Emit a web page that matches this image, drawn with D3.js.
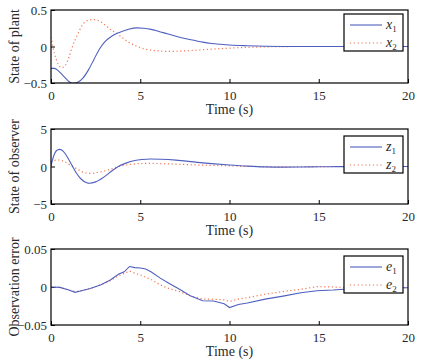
<!DOCTYPE html>
<html>
<head>
<meta charset="utf-8">
<script src="https://cdn.jsdelivr.net/npm/d3@7"></script>
<style>
  body { margin: 0; background: #fff; }
  svg { display: block; }
  text { font-family: "Liberation Serif", "Times New Roman", Times, serif; fill: #2a2a2a; }
</style>
</head>
<body>
<div id="chart"></div>
<script>
// state of plant
let tX = [0, 0.2, 0.4, 0.6, 0.8, 1.0, 1.2, 1.5, 1.8, 2.1, 2.4, 2.7, 3.0, 3.4, 3.7, 4.0, 4.4, 4.8, 5.2, 5.6, 6.0, 6.5, 7.0, 7.5, 8.0, 8.5, 9.0, 9.5, 10, 11, 12, 13, 14, 15, 16, 17, 18, 19, 20];
let x1 = [-0.30, -0.30, -0.33, -0.38, -0.43, -0.48, -0.505, -0.49, -0.43, -0.32, -0.18, -0.04, 0.06, 0.14, 0.18, 0.21, 0.24, 0.255, 0.25, 0.235, 0.21, 0.175, 0.14, 0.11, 0.085, 0.06, 0.042, 0.03, 0.02, 0.01, 0.004, 0.001, 0.0, 0.0, 0.0, 0.0, 0.0, 0.0, 0.0];
let x2 = [0.13, -0.10, -0.24, -0.29, -0.26, -0.15, 0.0, 0.17, 0.31, 0.36, 0.37, 0.35, 0.30, 0.22, 0.176, 0.12, 0.05, 0.005, -0.03, -0.05, -0.06, -0.068, -0.065, -0.06, -0.053, -0.045, -0.037, -0.029, -0.022, -0.012, -0.005, -0.001, 0.0, 0.0, 0.0, 0.0, 0.0, 0.0, 0.0];

// state of observer
let tZ = [0, 0.15, 0.3, 0.47, 0.6, 0.8, 1.0, 1.2, 1.4, 1.7, 2.0, 2.15, 2.5, 3.0, 3.4, 3.77, 4.2, 4.7, 5.1, 5.55, 6.2, 7.0, 8.2, 9.0, 10, 11, 12, 13, 14, 15, 16, 17, 18, 19, 20];
let z1 = [0.1, 1.4, 2.1, 2.29, 2.2, 1.7, 0.9, 0.05, -0.8, -1.7, -2.17, -2.24, -2.05, -1.35, -0.6, 0.0, 0.45, 0.8, 0.93, 1.0, 0.97, 0.85, 0.55, 0.38, 0.2, 0.05, -0.05, -0.08, -0.07, -0.04, -0.02, 0.0, 0.0, 0.0, 0.0];
let z2 = [0.6, 0.8, 0.86, 0.87, 0.8, 0.6, 0.3, 0.05, -0.25, -0.65, -0.87, -0.91, -0.85, -0.6, -0.3, 0.0, 0.2, 0.34, 0.4, 0.42, 0.38, 0.32, 0.2, 0.15, 0.09, 0.03, -0.02, -0.04, -0.03, -0.02, 0.0, 0.0, 0.0, 0.0, 0.0];

// observation error
let tE = [0, 0.5, 1.0, 1.35, 1.7, 2.2, 2.8, 3.3, 3.8, 4.1, 4.4, 4.7, 5.0, 5.3, 5.6, 6.1, 6.6, 7.2, 7.8, 8.5, 9.1, 9.7, 10.0, 10.5, 11, 12, 13, 14, 14.9, 15.8, 17, 18, 19, 20];
let e1 = [0.0, -0.0005, -0.004, -0.007, -0.005, -0.002, 0.003, 0.009, 0.017, 0.02, 0.027, 0.0255, 0.025, 0.0237, 0.02, 0.012, 0.005, -0.003, -0.0114, -0.018, -0.0185, -0.022, -0.027, -0.023, -0.021, -0.016, -0.012, -0.0075, -0.005, -0.004, -0.002, -0.001, -0.001, -0.001];
let e2 = [0.0, -0.0005, -0.004, -0.006, -0.005, -0.002, 0.003, 0.008, 0.015, 0.018, 0.021, 0.018, 0.016, 0.013, 0.01, 0.003, -0.002, -0.006, -0.0114, -0.016, -0.016, -0.017, -0.019, -0.016, -0.014, -0.0095, -0.006, -0.003, 0.0005, 0.0, -0.001, -0.001, -0.001, -0.001];

let xTicks = [0, 5, 10, 15, 20];

let panels = [
    {top: 10, bottom: 83, t: tX, a: x1, b: x2, dom: [-0.5, 0.5], ticks: [-0.5, 0, 0.5], ylab: "State of plant", sym: "x", curve: d3.curveMonotoneX, leg: 14},
    {top: 129, bottom: 204, t: tZ, a: z1, b: z2, dom: [-5, 5], ticks: [-5, 0, 5], ylab: "State of observer", sym: "z", curve: d3.curveMonotoneX, leg: 136},
    {top: 249, bottom: 325, t: tE, a: e1, b: e2, dom: [-0.05, 0.05], ticks: [-0.05, 0, 0.05], ylab: "Observation error", sym: "e", curve: d3.curveLinear, leg: 256}
];

let width = 421, height = 364;
let left = 51, right = 408;
let blue = "#4f5fc0", orange = "#f4764e";
let serif = "'Liberation Serif', 'Times New Roman', Times, serif";

let svg = d3.select("#chart").append("svg")
    .attr("width", width)
    .attr("height", height);

let x = d3.scaleLinear().domain([0, 20]).range([left, right]);

panels.forEach(function(p) {
    let y = d3.scaleLinear().domain(p.dom).range([p.bottom, p.top]);
    let g = svg.append("g");

    let clipId = "clip" + p.top;
    g.append("clipPath").attr("id", clipId)
        .append("rect")
        .attr("x", left).attr("y", p.top)
        .attr("width", right - left).attr("height", p.bottom - p.top);

    // axes with inward ticks
    let xAxis = g.append("g")
        .attr("transform", "translate(0," + p.bottom + ")")
        .call(d3.axisBottom(x).tickValues(xTicks).tickSizeInner(-4).tickSizeOuter(0).tickPadding(6));
    let yAxis = g.append("g")
        .attr("transform", "translate(" + left + ",0)")
        .call(d3.axisLeft(y).tickValues(p.ticks).tickSizeInner(-4).tickSizeOuter(0).tickPadding(6)
            .tickFormat(function(d) { return d === 0 ? "0" : String(d).replace("-", "\u2212"); }));
    [xAxis, yAxis].forEach(function(ax) {
        ax.attr("font-family", serif);
        ax.select(".domain").remove();
        ax.selectAll("line").attr("stroke", "#000");
        ax.selectAll("text").attr("font-size", 13).attr("fill", "#2a2a2a");
    });
    xAxis.selectAll("text").attr("dy", null).attr("y", 17);
    yAxis.selectAll("text").attr("x", -4).attr("dy", "0.35em");

    let line = function(vals) {
        return d3.line()
            .x(function(d, i) { return x(p.t[i]); })
            .y(function(d) { return y(d); })
            .curve(p.curve)(vals);
    };

    let plot = g.append("g").attr("clip-path", "url(#" + clipId + ")");
    plot.append("path").attr("d", line(p.b))
        .attr("fill", "none").attr("stroke", orange).attr("stroke-width", 1.2)
        .attr("stroke-dasharray", "1.2,2.6");
    plot.append("path").attr("d", line(p.a))
        .attr("fill", "none").attr("stroke", blue).attr("stroke-width", 1.1);

    // box
    g.append("rect")
        .attr("x", left).attr("y", p.top)
        .attr("width", right - left).attr("height", p.bottom - p.top)
        .attr("fill", "none").attr("stroke", "#000").attr("stroke-width", 1.2);

    // labels
    g.append("text")
        .attr("x", (left + right) / 2).attr("y", p.bottom + 31)
        .attr("text-anchor", "middle").attr("font-size", 14)
        .text("Time (s)");
    g.append("text")
        .attr("transform", "translate(19," + ((p.top + p.bottom) / 2) + ") rotate(-90)")
        .attr("text-anchor", "middle").attr("font-size", 14)
        .text(p.ylab);

    // legend
    let lg = g.append("g").attr("transform", "translate(344," + p.leg + ")");
    lg.append("rect").attr("width", 59).attr("height", 37)
        .attr("fill", "#fff").attr("stroke", "#000").attr("stroke-width", 1.2);
    [[blue, null, "1"], [orange, "1.2,2.6", "2"]].forEach(function(e, i) {
        let yy = 11 + i * 18;
        lg.append("line").attr("x1", 6).attr("x2", 38).attr("y1", yy).attr("y2", yy)
            .attr("stroke", e[0]).attr("stroke-width", 1.1)
            .attr("stroke-dasharray", e[1]);
        let t = lg.append("text").attr("x", 42).attr("y", yy + 4).attr("font-size", 14);
        t.append("tspan").attr("font-style", "italic").text(p.sym);
        t.append("tspan").attr("font-size", 9).attr("dy", 3).text(e[2]);
    });
});
</script>
</body>
</html>
